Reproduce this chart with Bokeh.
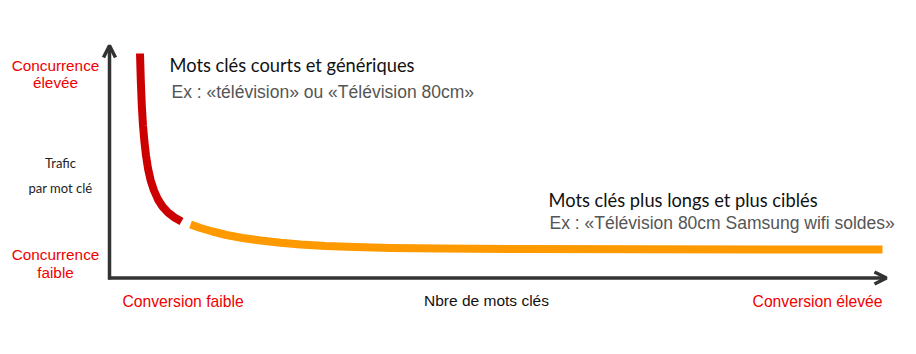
from bokeh.plotting import figure
from bokeh.models import Range1d, Label, Arrow, OpenHead
from bokeh.embed import file_html
from bokeh.resources import INLINE

# Curve data, in axis units (x: nombre de mots clés, y: trafic par mot clé)
red_x = [30.5, 31.3, 32.3, 33.5, 34.8, 36.5, 38.5, 41.2, 44.5, 48.5, 53, 58.5, 65, 72]
red_y = [224.5, 197.5, 172.5, 152.5, 137.5, 122.5, 109.5, 97.5, 87.5, 78.5, 71.5, 65.5, 60.5, 56.5]
orange_x = [81, 91, 103, 117, 133, 151, 171, 191, 216, 246, 281, 331, 411, 531, 773]
orange_y = [53.5, 50, 46.5, 43, 40, 37.5, 35.2, 33.5, 32, 30.9, 30.1, 29.5, 29, 28.7, 28.5]

title_short = "Mots clés courts et génériques"
ex_short = "Ex : «télévision» ou «Télévision 80cm»"
title_long = "Mots clés plus longs et plus ciblés"
ex_long = "Ex : «Télévision 80cm Samsung wifi soldes»"
y_top = ["Concurrence", "élevée"]
y_bottom = ["Concurrence", "faible"]
y_mid = ["Trafic", "par mot clé"]
x_left = "Conversion faible"
x_mid = "Nbre de mots clés"
x_right = "Conversion élevée"

OX, OY = 109, 277.5
W, H = 916, 354

def px(x):
    return x - OX

def py(y):
    return OY - y

p = figure(width=W, height=H, output_backend="svg", toolbar_location=None,
           x_range=Range1d(-OX, W - OX), y_range=Range1d(OY - H, OY),
           min_border=0)
p.axis.visible = False
p.grid.visible = False
p.outline_line_color = None
p.background_fill_color = "white"
p.border_fill_color = "white"

# axes arrows
p.add_layout(Arrow(x_start=0, y_start=-1.5, x_end=0, y_end=py(45),
                   line_color="#333333", line_width=3.5,
                   end=OpenHead(size=12, line_color="#333333", line_width=3.5)))
p.add_layout(Arrow(x_start=-1.5, y_start=0, x_end=px(886), y_end=0,
                   line_color="#333333", line_width=3.5,
                   end=OpenHead(size=12, line_color="#333333", line_width=3.5)))

p.line(red_x, red_y, line_color="#cc0000", line_width=8, line_cap="butt", line_join="round")
p.line(orange_x, orange_y, line_color="#ff9900", line_width=8, line_cap="butt", line_join="round")

RED = "#ee0000"

def lab(text, x, y, color, size, font, align="left"):
    p.add_layout(Label(x=px(x), y=py(y), text=text, text_color=color,
                       text_font_size=f"{size}px", text_font=font,
                       text_align=align, text_baseline="alphabetic"))

lab(y_top[0], 55, 65, RED, 15.3, "Liberation Sans", "center")
lab(y_top[1], 55, 82, RED, 15.3, "Liberation Sans", "center")
lab(y_bottom[0], 55, 254, RED, 15.3, "Liberation Sans", "center")
lab(y_bottom[1], 55, 271.5, RED, 15.3, "Liberation Sans", "center")
lab(y_mid[0], 60, 162, "#222222", 13, "Lato", "center")
lab(y_mid[1], 60, 187, "#222222", 13, "Lato", "center")
lab(x_left, 122, 300.5, RED, 15.7, "Liberation Sans")
lab(x_mid, 486, 300, "#111111", 15.5, "Liberation Sans", "center")
lab(x_right, 882, 300.5, RED, 15.7, "Liberation Sans", "right")
lab(title_short, 169, 64, "#111111", 18.3, "Lato")
lab(ex_short, 171, 91.5, "#555555", 17.5, "Liberation Sans")
lab(title_long, 548, 199, "#111111", 18.3, "Lato")
lab(ex_long, 549, 222, "#555555", 17.5, "Liberation Sans")

open("out.html", "w").write(file_html(p, INLINE))
